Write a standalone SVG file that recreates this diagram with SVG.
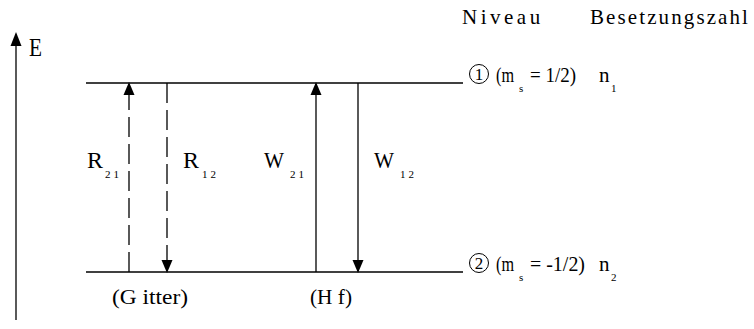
<svg xmlns="http://www.w3.org/2000/svg" width="754" height="329" viewBox="0 0 754 329" font-family="'Liberation Serif', 'Times New Roman', serif">
<style>
text{font-family:"Liberation Serif","Times New Roman",serif;fill:#000}
.ln{stroke:#000;stroke-width:1.3;fill:none}
.ds{stroke:#000;stroke-width:1.3;fill:none;stroke-dasharray:20 7}
</style>
<defs>
<marker id="ah" viewBox="0 0 11 13" refX="11" refY="5.5" markerWidth="11" markerHeight="13" markerUnits="userSpaceOnUse" orient="auto" overflow="visible">
<path d="M0,0 L13,5.5 L0,11 Z" fill="#000"/>
</marker>
</defs>
<g id="axis">
<line class="ln" x1="16" y1="320" x2="16" y2="46"/>
<path d="M10.5,46 L16,32 L21.5,46 Z" fill="#000"/>
<text font-size="26" x="29" y="56" textLength="13" lengthAdjust="spacingAndGlyphs">E</text>
</g>
<g id="header" font-size="21">
<text x="462" y="24" letter-spacing="3.5">Niveau</text>
<text x="590" y="24" letter-spacing="2.1">Besetzungszahl</text>
</g>
<g id="level1" font-size="21">
<line class="ln" x1="86" y1="83" x2="463" y2="83"/>
<circle cx="479" cy="74" r="9.5" fill="none" stroke="#000" stroke-width="1"/>
<text font-size="17" x="479" y="80" text-anchor="middle">1</text>
<text x="496" y="82" textLength="18" lengthAdjust="spacingAndGlyphs">(m</text>
<text font-size="11" x="519" y="92">s</text>
<text x="530" y="82" textLength="46" lengthAdjust="spacingAndGlyphs">= 1/2)</text>
<text x="599" y="82">n</text>
<text font-size="11" x="611" y="92">1</text>
</g>
<g id="level2" font-size="21">
<line class="ln" x1="86" y1="272" x2="463" y2="272"/>
<circle cx="479" cy="263" r="9.5" fill="none" stroke="#000" stroke-width="1"/>
<text font-size="17" x="479" y="269" text-anchor="middle">2</text>
<text x="496" y="271" textLength="18" lengthAdjust="spacingAndGlyphs">(m</text>
<text font-size="11" x="519" y="281">s</text>
<text x="530" y="271" textLength="55" lengthAdjust="spacingAndGlyphs">= -1/2)</text>
<text x="599" y="271">n</text>
<text font-size="11" x="611" y="281">2</text>
</g>
<g id="connectors">
<line class="ds" x1="129" y1="272" x2="129" y2="84" marker-end="url(#ah)"/>
<line class="ds" x1="167" y1="83" x2="167" y2="271" marker-end="url(#ah)"/>
<line class="ln" x1="316" y1="272" x2="316" y2="84" marker-end="url(#ah)"/>
<line class="ln" x1="358" y1="83" x2="358" y2="271" marker-end="url(#ah)"/>
</g>
<g id="labels" font-size="24">
<text x="87" y="168" textLength="16" lengthAdjust="spacingAndGlyphs">R</text>
<text font-size="11" x="105" y="178" letter-spacing="3">21</text>
<text x="183" y="168" textLength="16" lengthAdjust="spacingAndGlyphs">R</text>
<text font-size="11" x="202" y="178" letter-spacing="3">12</text>
<text x="264" y="168" textLength="20" lengthAdjust="spacingAndGlyphs">W</text>
<text font-size="11" x="290" y="178" letter-spacing="3">21</text>
<text x="374" y="168" textLength="20" lengthAdjust="spacingAndGlyphs">W</text>
<text font-size="11" x="400" y="178" letter-spacing="3">12</text>
<text font-size="21" x="112" y="304" textLength="76" lengthAdjust="spacingAndGlyphs">(G itter)</text>
<text font-size="21" x="310" y="304" textLength="42" lengthAdjust="spacingAndGlyphs">(H f)</text>
</g>
</svg>
